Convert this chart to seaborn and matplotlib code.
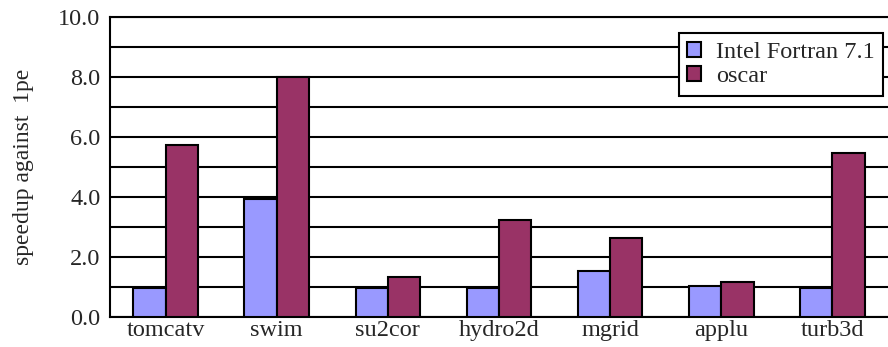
import matplotlib
matplotlib.use("Agg")
import matplotlib.pyplot as plt
import seaborn as sns
import pandas as pd
import numpy as np

benchmarks = ["tomcatv", "swim", "su2cor", "hydro2d", "mgrid", "applu", "turb3d"]
intel_fortran = [0.97, 3.92, 0.97, 0.97, 1.55, 1.04, 0.97]
oscar = [5.72, 8.0, 1.35, 3.25, 2.63, 1.16, 5.48]
series_names = ["Intel Fortran 7.1", "oscar"]
y_ticks = [0.0, 2.0, 4.0, 6.0, 8.0, 10.0]

df = pd.DataFrame({
    "benchmark": benchmarks * 2,
    "compiler": [series_names[0]] * len(benchmarks) + [series_names[1]] * len(benchmarks),
    "speedup": intel_fortran + oscar,
})

sns.set_theme(style="white")
plt.rcParams["font.family"] = ["Liberation Serif", "DejaVu Serif"]

fig = plt.figure(figsize=(8.88, 3.47), dpi=100)
ax = fig.add_axes([110 / 888, 1 - 317 / 347, 778 / 888, 300 / 347])

sns.barplot(data=df, x="benchmark", y="speedup", hue="compiler",
            order=benchmarks, hue_order=series_names,
            palette=["#9999FF", "#993366"], width=0.58,
            edgecolor="black", linewidth=1.5, saturation=1, ax=ax, zorder=3)

ax.set_ylim(0, 10)
ax.set_xlim(-0.5, len(benchmarks) - 0.5)
ax.set_yticks(y_ticks)
ax.set_yticklabels([f"{v:.1f}" for v in y_ticks], fontsize=17.5)
ax.set_yticks(np.arange(1, 10, 2), minor=True)
ax.tick_params(axis="x", labelsize=17.5, length=0, pad=2)
ax.tick_params(axis="y", which="both", length=0, pad=7)
ax.grid(axis="y", which="both", color="black", linewidth=1.5, zorder=0)
ax.set_axisbelow(True)
ax.set_xlabel("")
ax.set_ylabel("speedup against  1pe", fontsize=17, labelpad=17)

for side in ["left", "bottom", "top"]:
    ax.spines[side].set_visible(True)
    ax.spines[side].set_color("black")
    ax.spines[side].set_linewidth(1.5)
ax.spines["right"].set_visible(False)

leg = ax.legend(loc="upper right", bbox_to_anchor=(773 / 778, 1 - 16 / 300),
                fontsize=17.5, frameon=True, fancybox=False, framealpha=1,
                edgecolor="black", handlelength=0.58, handleheight=0.58,
                handletextpad=0.6, borderpad=0.35, borderaxespad=0,
                labelspacing=0.15)
leg.get_frame().set_linewidth(1.5)
leg.set_zorder(5)
leg.set_title(None)

fig.savefig("out.png", dpi=100)
